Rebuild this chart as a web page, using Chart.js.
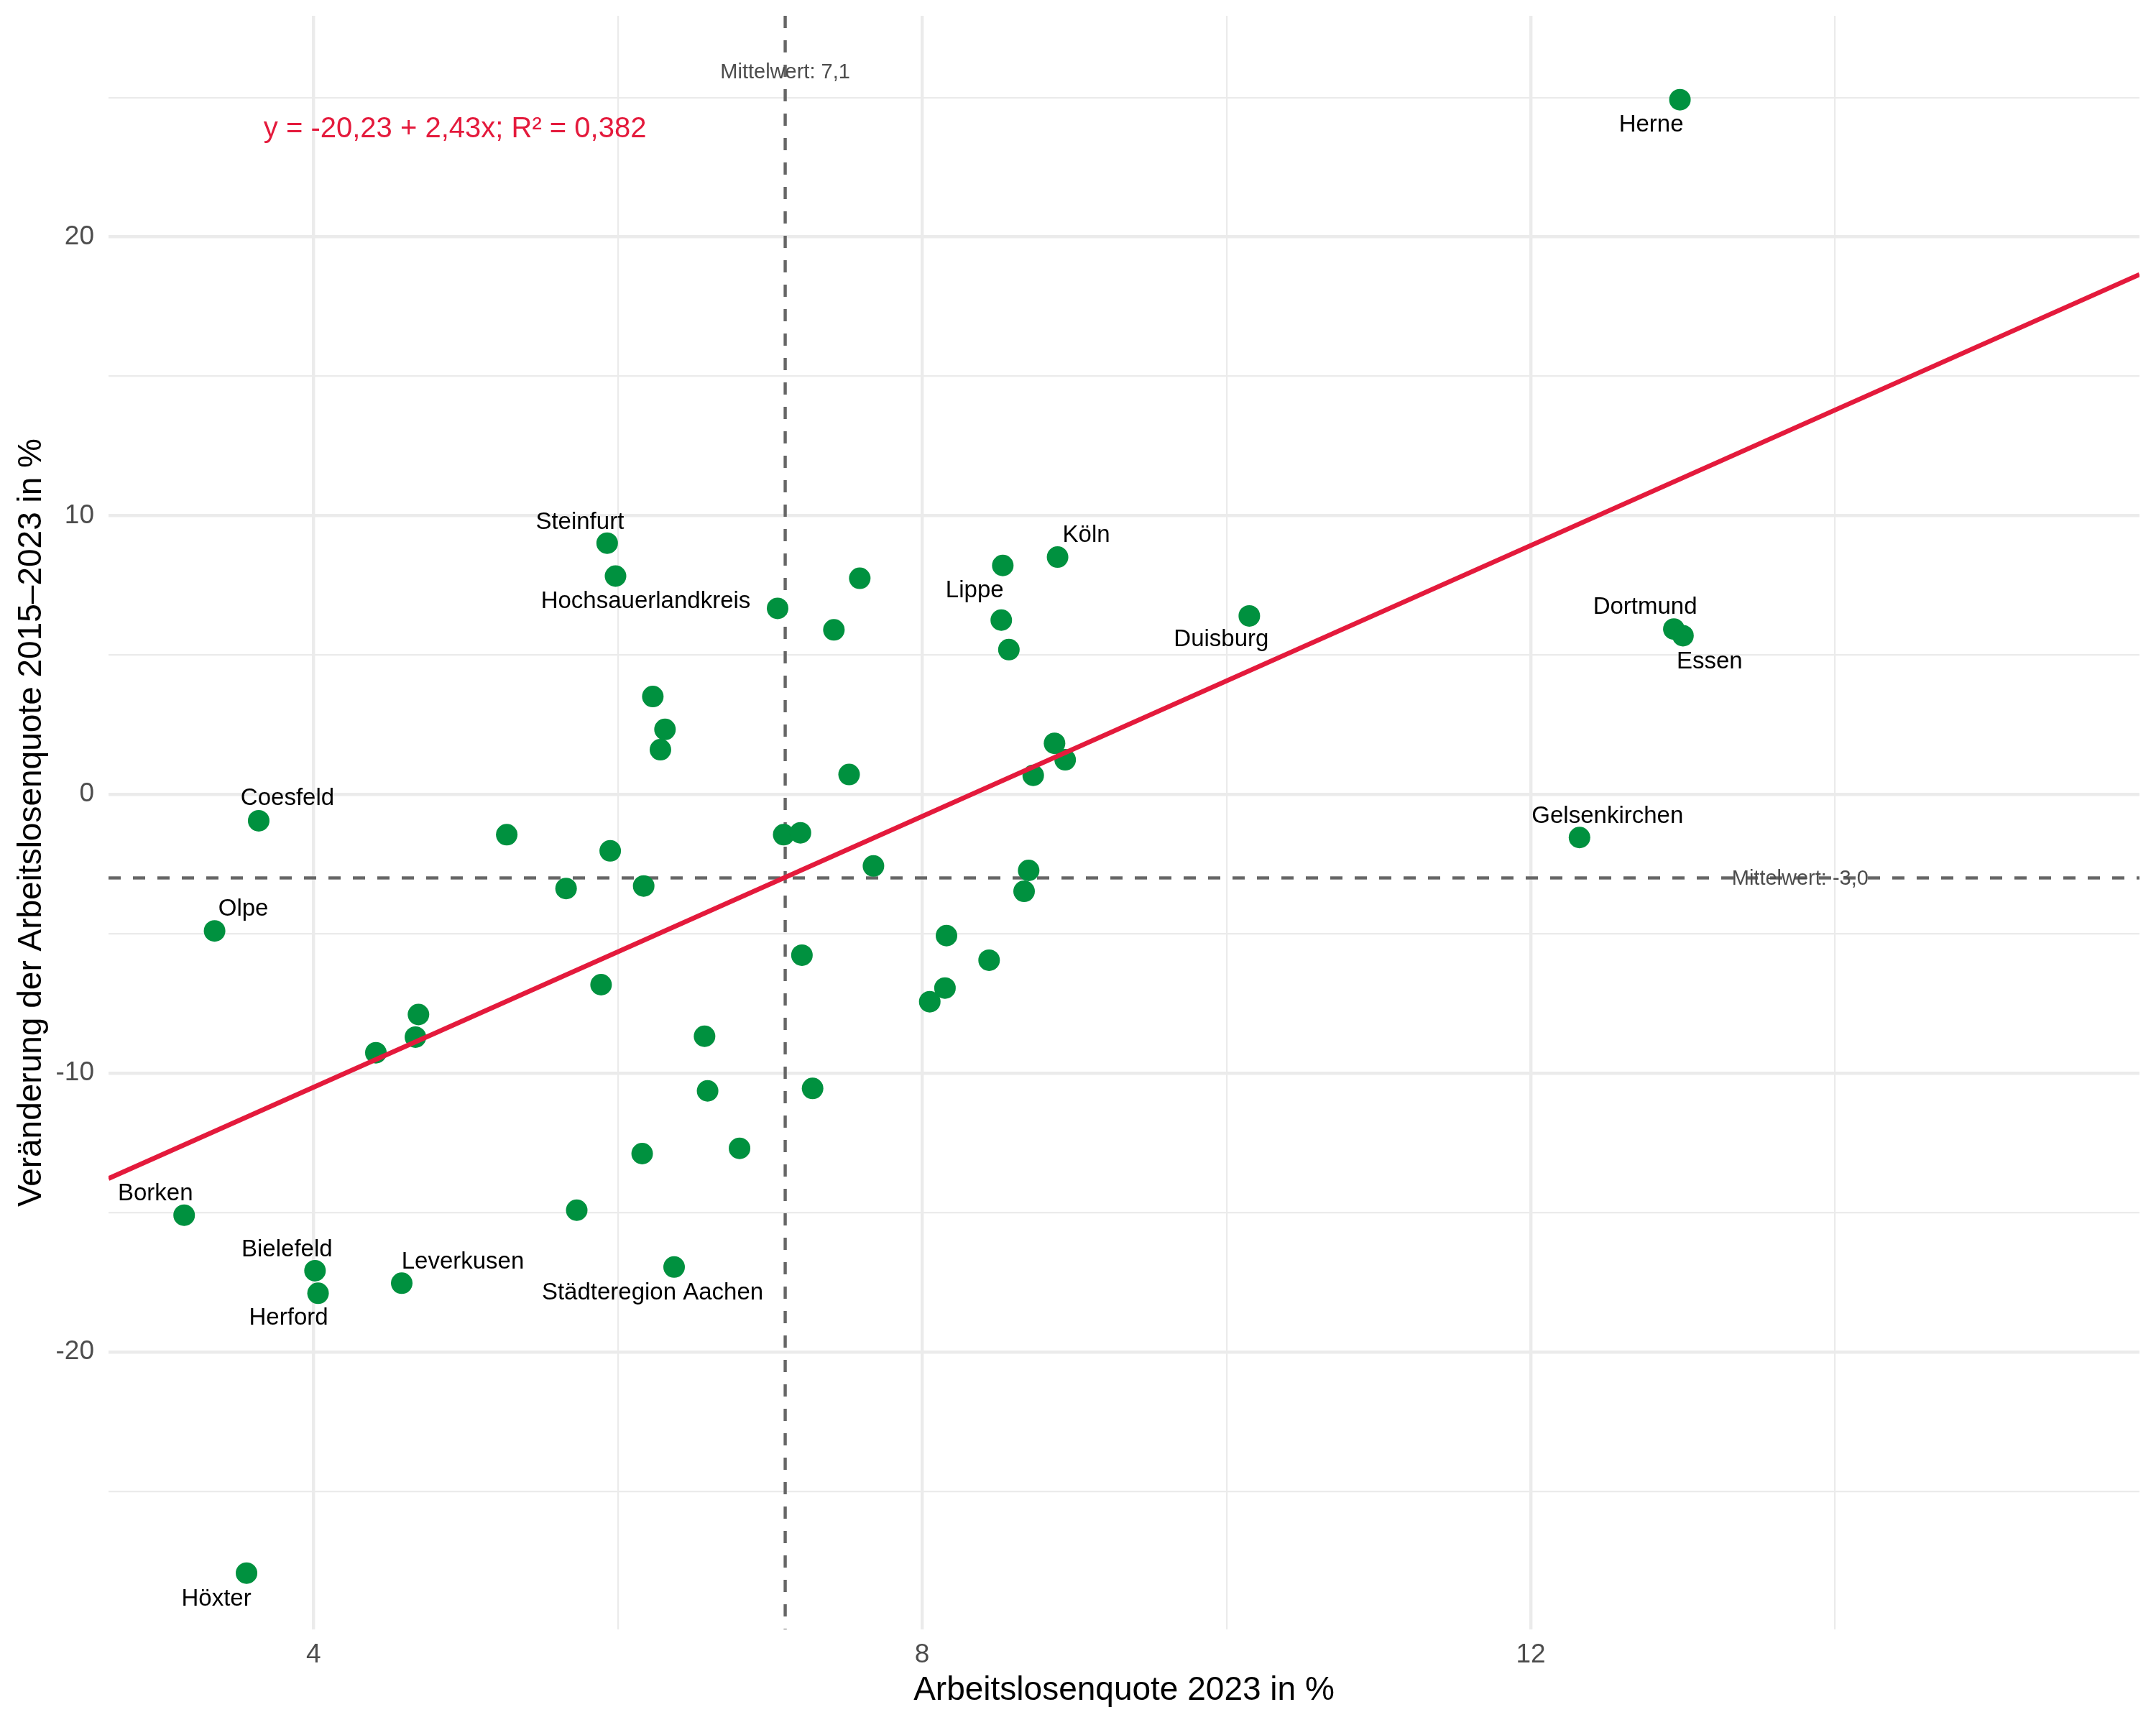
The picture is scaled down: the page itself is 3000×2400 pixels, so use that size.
<!DOCTYPE html>
<html>
<head>
<meta charset="utf-8">
<script src="https://cdn.jsdelivr.net/npm/chart.js@4.4.1/dist/chart.umd.min.js"></script>
<style>
  html, body { margin: 0; padding: 0; background: #fff; }
  canvas { display: block; }
</style>
</head>
<body>
<canvas id="scatter" width="3000" height="2400" style="width:3000px;height:2400px"></canvas>
<script>
// Arbeitslosenquote 2023 (x) vs. Veränderung 2015-2023 (y), NRW Kreise / kreisfreie Städte
const names = [
  'Herne', 'Dortmund', 'Essen', 'Gelsenkirchen', 'Duisburg', 'Köln', '', 'Lippe', '', '',
  '', '', 'Steinfurt', 'Hochsauerlandkreis', '', '', '', '', '', '',
  '', '', '', '', '', '', '', '', '', '',
  '', '', '', '', '', '', '', 'Coesfeld', 'Olpe', '',
  '', '', 'Borken', '', '', '', 'Bielefeld', 'Leverkusen', 'Städteregion Aachen', '',
  '', 'Herford', 'Höxter'
];
const quote2023 = [
  12.98, 12.94, 13.00, 12.32, 10.15, 8.89, 8.53, 8.52, 8.57, 7.59,
  7.42, 7.05, 5.93, 5.985, 6.23, 6.31, 6.28, 7.52, 8.87, 8.94,
  8.73, 5.27, 5.95, 7.09, 7.20, 5.66, 6.17, 7.68, 8.70, 8.67,
  8.16, 8.44, 7.21, 8.15, 8.05, 5.89, 6.57, 3.64, 3.35, 4.69,
  4.67, 4.41, 3.15, 5.73, 6.16, 6.59, 4.01, 4.58, 6.37, 7.28,
  6.80, 4.03, 3.56
];
const veraenderung = [
  24.92, 5.93, 5.69, -1.55, 6.40, 8.51, 8.21, 6.25, 5.19, 7.75,
  5.90, 6.67, 9.01, 7.83, 3.51, 2.33, 1.60, 0.71, 1.83, 1.24,
  0.68, -1.45, -2.03, -1.45, -1.38, -3.38, -3.29, -2.57, -2.73, -3.48,
  -5.07, -5.95, -5.77, -6.95, -7.44, -6.83, -8.68, -0.95, -4.90, -7.90,
  -8.71, -9.27, -15.10, -14.92, -12.89, -10.64, -17.09, -17.54, -16.96, -10.55,
  -12.70, -17.90, -27.94
];

// Regression und Mittelwerte
const intercept = -20.23;
const slope = 2.43;
const rSquared = 0.382;
const meanX = 7.1;
const meanY = -3.0;

// Achsen
const xMin = 2.653, xMax = 16.0;
const yMin = -29.96, yMax = 27.93;
const xBreaks = [4, 6, 8, 10, 12, 14];
const xTickLabels = ['4', '', '8', '', '12', ''];
const yBreaks = [-25, -20, -15, -10, -5, 0, 5, 10, 15, 20, 25];
const yTickLabels = ['', '-20', '', '-10', '', '0', '', '10', '', '20', ''];

const FONT = "'Liberation Sans', Arial, sans-serif";
const deNum = (v, d) => v.toFixed(d).replace('.', ',');

// label offsets (px) relative to their point, like ggrepel put them
const labelOffset = {
  'Herne': [-40, 35], 'Dortmund': [-40, -30], 'Essen': [37, 36], 'Gelsenkirchen': [39, -29],
  'Duisburg': [-39, 33], 'Köln': [40, -30], 'Lippe': [-37, -41], 'Steinfurt': [-38, -29],
  'Hochsauerlandkreis': [42, 35], 'Coesfeld': [40, -31], 'Olpe': [40, -30], 'Borken': [-40, -30],
  'Bielefeld': [-39, -29], 'Herford': [-41, 35], 'Leverkusen': [85, -29],
  'Städteregion Aachen': [-30, 36], 'Höxter': [-42, 36]
};

const annotations = {
  id: 'annotations',
  beforeDatasetsDraw(chart) {
    const { ctx, chartArea: a, scales: { x, y } } = chart;
    ctx.save();
    ctx.strokeStyle = '#666666';
    ctx.lineWidth = 4.4;
    ctx.setLineDash([17, 17]);
    const px = x.getPixelForValue(meanX);
    ctx.beginPath();
    ctx.moveTo(px, a.top);
    ctx.lineTo(px, a.bottom);
    ctx.stroke();
    const py = y.getPixelForValue(meanY);
    ctx.beginPath();
    ctx.moveTo(a.left, py);
    ctx.lineTo(a.right, py);
    ctx.stroke();
    ctx.restore();
  },
  afterDatasetsDraw(chart) {
    const { ctx, scales: { x, y } } = chart;
    ctx.save();
    ctx.textAlign = 'center';
    ctx.textBaseline = 'middle';

    // Mittelwert labels
    ctx.fillStyle = '#4d4d4d';
    ctx.font = '29px ' + FONT;
    ctx.fillText('Mittelwert: ' + deNum(meanX, 1), x.getPixelForValue(meanX), y.getPixelForValue(25.88));
    ctx.fillText('Mittelwert: ' + deNum(meanY, 1), x.getPixelForValue(13.77), y.getPixelForValue(meanY - 0.05));

    // regression equation
    ctx.fillStyle = '#e41a3c';
    ctx.font = '40px ' + FONT;
    const eq = 'y = ' + deNum(intercept, 2) + ' + ' + deNum(slope, 2) + 'x; R² = ' + deNum(rSquared, 3);
    ctx.fillText(eq, x.getPixelForValue(4.93), y.getPixelForValue(23.85));

    // point labels
    ctx.fillStyle = '#000000';
    ctx.font = '33px ' + FONT;
    names.forEach((n, i) => {
      if (!n) return;
      const off = labelOffset[n] || [0, -35];
      ctx.fillText(n, x.getPixelForValue(quote2023[i]) + off[0], y.getPixelForValue(veraenderung[i]) + off[1]);
    });
    ctx.restore();
  }
};

const points = quote2023.map((v, i) => ({ x: v, y: veraenderung[i] }));
const fitLine = [xMin, xMax].map((v) => ({ x: v, y: intercept + slope * v }));

new Chart(document.getElementById('scatter').getContext('2d'), {
  type: 'scatter',
  data: {
    datasets: [
      {
        type: 'line',
        data: fitLine,
        borderColor: '#e41a3c',
        borderWidth: 6.5,
        pointRadius: 0,
        fill: false,
        order: 0,
      },
      {
        data: points,
        backgroundColor: '#00913f',
        borderWidth: 0,
        pointRadius: 15,
        pointHoverRadius: 15,
        order: 1,
      },
    ],
  },
  options: {
    responsive: false,
    devicePixelRatio: 1,
    animation: false,
    events: [],
    layout: { padding: { top: 22, right: 23, left: 0, bottom: 0 } },
    plugins: {
      legend: { display: false },
      tooltip: { enabled: false },
    },
    scales: {
      x: {
        type: 'linear',
        min: xMin,
        max: xMax,
        afterBuildTicks: (axis) => { axis.ticks = xBreaks.map((v) => ({ value: v })); },
        afterFit: (axis) => {
          axis.height = 133;
          axis.paddingLeft = 0;
          axis.paddingRight = 0;
        },
        ticks: {
          padding: 14,
          color: '#4d4d4d',
          font: { family: FONT, size: 37 },
          callback: (val, idx) => xTickLabels[idx],
        },
        grid: {
          color: '#ebebeb',
          lineWidth: (c) => (xTickLabels[c.index] ? 4.4 : 2.2),
          drawTicks: false,
        },
        border: { display: false },
        title: {
          display: true,
          text: 'Arbeitslosenquote 2023 in %',
          color: '#000000',
          font: { family: FONT, size: 46 },
          padding: { top: 0, bottom: 20 },
        },
      },
      y: {
        type: 'linear',
        min: yMin,
        max: yMax,
        afterBuildTicks: (axis) => { axis.ticks = yBreaks.map((v) => ({ value: v })); },
        afterFit: (axis) => {
          axis.width = 151;
          axis.paddingTop = 0;
          axis.paddingBottom = 0;
        },
        ticks: {
          padding: 20,
          color: '#4d4d4d',
          font: { family: FONT, size: 37 },
          callback: (val, idx) => yTickLabels[idx],
        },
        grid: {
          color: '#ebebeb',
          lineWidth: (c) => (yTickLabels[c.index] ? 4.4 : 2.2),
          drawTicks: false,
        },
        border: { display: false },
        title: {
          display: true,
          text: 'Veränderung der Arbeitslosenquote 2015–2023 in %',
          color: '#000000',
          font: { family: FONT, size: 46 },
          padding: { top: 17, bottom: 0 },
        },
      },
    },
  },
  plugins: [annotations],
});
</script>
</body>
</html>
